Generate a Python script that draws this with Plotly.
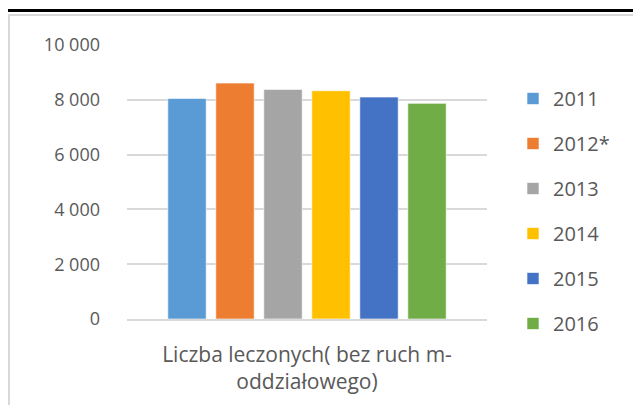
import plotly.graph_objects as go

# data
category = ["Liczba leczonych( bez ruch m-<br>oddziałowego)"]
years = ["2011", "2012*", "2013", "2014", "2015", "2016"]
values = [8050, 8610, 8380, 8330, 8100, 7870]
colors = ["#5B9BD5", "#ED7D31", "#A5A5A5", "#FFC000", "#4472C4", "#70AD47"]

# page body has an 8px margin, so the figure is drawn 8px in from the corner
OFF = 8
W, H = 641 - OFF, 405 - OFF
L, R, T, B = 119, 154, 37, 86
pw, ph = W - L - R, H - T - B


def px(x):
    # reference screen x -> paper x
    return (x - OFF - L) / pw


def py(y):
    # reference screen y -> paper y
    return (H - B - (y - OFF)) / ph


fig = go.Figure()
for i, (year, val) in enumerate(zip(years, values)):
    fig.add_trace(go.Bar(
        x=category, y=[val], name=year,
        marker=dict(color=colors[i], line=dict(color="rgba(255,255,255,0.6)", width=1)),
        legendgroup=year,
    ))

font = "'Open Sans', sans-serif"
fig.update_layout(
    width=W, height=H,
    margin=dict(l=L, r=R, t=T, b=B, autoexpand=False),
    paper_bgcolor="white", plot_bgcolor="white",
    barmode="group", bargap=0.2, bargroupgap=0.2,
    font=dict(family=font, color="#595959", size=17),
    showlegend=True,
    legend=dict(
        x=px(513), y=py(79), xanchor="left", yanchor="top",
        font=dict(size=20, color="#595959"),
        traceorder="grouped", tracegroupgap=16,
        bgcolor="rgba(0,0,0,0)",
    ),
    xaxis=dict(
        showgrid=False, showline=True, linecolor="#d9d9d9", linewidth=1.5,
        tickfont=dict(size=21, color="#595959"), ticks="", ticklabelstandoff=16,
    ),
    yaxis=dict(
        range=[0, 10000], dtick=2000, showgrid=True, gridcolor="#d9d9d9", gridwidth=1.5,
        zeroline=False, showline=False, tickformat=",d",
        tickfont=dict(size=18, color="#595959"), ticks="", ticklabelstandoff=26,
    ),
    separators=", ",
    shapes=[
        dict(type="line", xref="paper", yref="paper", x0=px(7), x1=px(660), y0=py(15), y1=py(15),
             line=dict(color="#d9d9d9", width=2)),
        dict(type="line", xref="paper", yref="paper", x0=px(9), x1=px(9), y0=py(15), y1=py(420),
             line=dict(color="#d9d9d9", width=2)),
        dict(type="line", xref="paper", yref="paper", x0=px(7), x1=px(660), y0=py(10.5), y1=py(10.5),
             line=dict(color="black", width=3)),
    ],
)

fig.write_html("out.html")
